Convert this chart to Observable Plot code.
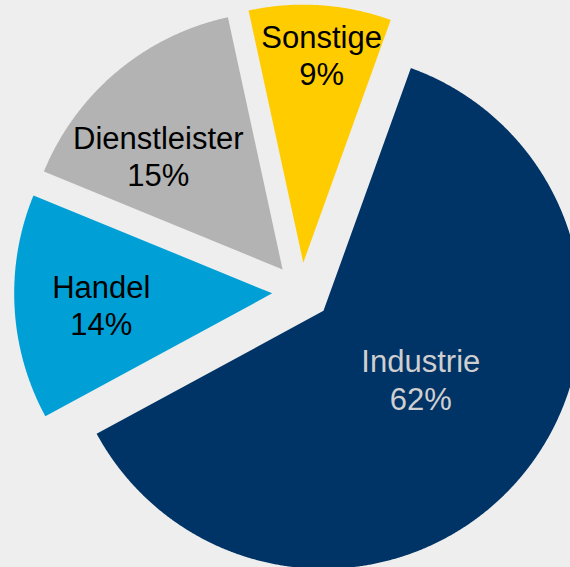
<!DOCTYPE html>
<html>
<head>
<meta charset="utf-8">
<script src="https://cdn.jsdelivr.net/npm/d3@7"></script>
<script src="https://cdn.jsdelivr.net/npm/@observablehq/plot@0.6"></script>
<style>
  html, body { margin: 0; padding: 0; background: #eeeeee; overflow: hidden; }
</style>
</head>
<body>
<div id="chart"></div>
<script>
// ---- data ----
const categories = ["Industrie", "Handel", "Dienstleister", "Sonstige"];
const shares = [61.6, 14.1, 15.4, 8.9];
const valueLabels = shares.map(v => `${Math.round(v)}%`);

// ---- layout / style ----
const W = 570, H = 567;
const cx = 300.85, cy = 291.3, R = 258, explode = 29.2, startDeg = 19.8;
const sliceColors = ["#003366", "#00a0d6", "#b3b3b3", "#ffcc00"];
const labelRadius = [148, 200.5, 197.3, 238];
const labelDeltaDeg = [-4.5, -0.7, -6.5, 1.1];

const arcs = d3.pie().sort(null)
  .startAngle(startDeg * Math.PI / 180)
  .endAngle((startDeg + 360) * Math.PI / 180)(shares);

const points = [];
const labels = [];
arcs.forEach((a, i) => {
  const name = categories[i];
  const mid = (a.startAngle + a.endAngle) / 2;
  const ax = cx + explode * Math.sin(mid);
  const ay = cy - explode * Math.cos(mid);
  points.push({name, x: ax, y: ay});
  const n = Math.ceil((a.endAngle - a.startAngle) / (Math.PI / 720));
  for (let k = 0; k <= n; k++) {
    const t = a.startAngle + (a.endAngle - a.startAngle) * k / n;
    points.push({name, x: ax + R * Math.sin(t), y: ay - R * Math.cos(t)});
  }
  points.push({name, x: ax, y: ay});
  const lm = mid + labelDeltaDeg[i] * Math.PI / 180;
  labels.push({
    name,
    text: `${name}\n${valueLabels[i]}`,
    x: cx + labelRadius[i] * Math.sin(lm),
    y: cy - labelRadius[i] * Math.cos(lm)
  });
});

const chart = Plot.plot({
  width: W,
  height: H,
  margin: 0,
  x: {domain: [0, W], range: [0, W], axis: null},
  y: {domain: [0, H], range: [0, H], axis: null},
  color: {domain: categories, range: sliceColors},
  style: {background: "#eeeeee", fontFamily: "'Liberation Sans', Arial, sans-serif", overflow: "hidden"},
  marks: [
    Plot.line(points, {x: "x", y: "y", z: "name", fill: "name", stroke: "none", curve: "linear"}),
    Plot.text(labels, {
      filter: d => d.name === "Industrie",
      x: "x", y: "y", text: "text",
      fill: "#cfcfcf", fontSize: 31, lineHeight: 1.2,
      textAnchor: "middle", lineAnchor: "middle"
    }),
    Plot.text(labels, {
      filter: d => d.name !== "Industrie",
      x: "x", y: "y", text: "text",
      fill: "black", fontSize: 31, lineHeight: 1.2,
      textAnchor: "middle", lineAnchor: "middle"
    })
  ]
});
document.getElementById("chart").appendChild(chart);
</script>
</body>
</html>
